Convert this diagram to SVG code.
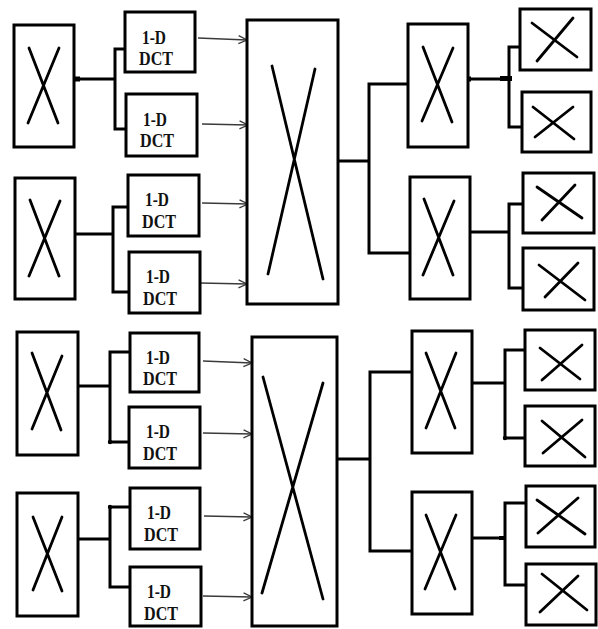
<svg xmlns="http://www.w3.org/2000/svg" width="598" height="629" viewBox="0 0 598 629">
  <style>
    .box { fill: #fff; stroke: #000; stroke-width: 3; }
    .cross { stroke: #000; stroke-width: 2.8; stroke-linecap: round; fill: none; }
    .wire { stroke: #000; stroke-width: 3; fill: none; }
    .arrow { stroke: #3a3a3a; stroke-width: 1.3; fill: none; marker-end: url(#head); }
    .lbl { font-family: "Liberation Serif", "Times New Roman", serif; font-weight: bold; font-size: 19px; fill: #111; text-anchor: middle; }
    .blob { fill: #000; }
  </style>
  <defs>
    <marker id="head" viewBox="0 0 10 10" refX="9.5" refY="5" markerWidth="10" markerHeight="10" markerUnits="userSpaceOnUse" orient="auto">
      <path d="M1,1 L9.5,5 L1,9" fill="none" stroke="#3a3a3a" stroke-width="1.3"/>
    </marker>
  </defs>

  <rect width="598" height="629" fill="#fff"/>

  <!-- wiring between blocks -->
  <g id="connectors">
    <!-- top half, left splits -->
    <path class="wire" d="M74,79 H115 M125,49 H115 V129 H127"/>
    <path class="wire" d="M75,234 H113 M128,207 H113 V292 H129"/>
    <!-- top half, right splits -->
    <path class="wire" d="M338,161 H369 M408,84 H369 V253 H410"/>
    <path class="wire" d="M468,79 H509 M521,47 H509 V127 H522"/>
    <path class="wire" d="M470,232 H509 M523,204 H509 V288 H523"/>
    <!-- bottom half, left splits -->
    <path class="wire" d="M78,386 H110 M130,352 H110 V442 H129"/>
    <path class="wire" d="M78,539 H110 M130,507 H110 V587 H130"/>
    <!-- bottom half, right splits -->
    <path class="wire" d="M337,459 H370 M412,372 H370 V551 H412"/>
    <path class="wire" d="M472,383 H505 M525,350 H505 V438 H525"/>
    <path class="wire" d="M472,538 H505 M526,503 H505 V585 H526"/>
    <!-- junction blobs -->
    <rect class="blob" x="72" y="76.5" width="8" height="5"/>
    <rect class="blob" x="465" y="76.5" width="6" height="5"/>
    <rect class="blob" x="500" y="76" width="12" height="5"/>
    <circle class="blob" cx="110" cy="442" r="2.2"/>
    <circle class="blob" cx="110" cy="507" r="2.2"/>
    <circle class="blob" cx="505" cy="438" r="2.2"/>
    <rect class="blob" x="499" y="536" width="7" height="4"/>
    <!-- DCT outputs into the transpose blocks -->
    <path class="arrow" d="M198,38 L247,40"/>
    <path class="arrow" d="M202,124 L248,125"/>
    <path class="arrow" d="M202,203 L248,204"/>
    <path class="arrow" d="M200,283 L247,284"/>
    <path class="arrow" d="M203,361 L252,363"/>
    <path class="arrow" d="M203,433 L252,434"/>
    <path class="arrow" d="M204,516 L252,517"/>
    <path class="arrow" d="M203,596 L252,597"/>
  </g>

  <!-- top half: input blocks -->
  <g id="in1"><rect class="box" x="14" y="25" width="60" height="122"/><path class="cross" d="M29,48 L58,123 M59,48 L28,123"/></g>
  <g id="in2"><rect class="box" x="15" y="178" width="60" height="121"/><path class="cross" d="M30,200 L59,276 M60,201 L29,276"/></g>

  <!-- top half: 1-D DCT blocks -->
  <g id="dct1"><rect class="box" x="125" y="12" width="70" height="60"/><text class="lbl" x="154" y="44" textLength="24" lengthAdjust="spacingAndGlyphs">1-D</text><text class="lbl" x="156" y="65" textLength="34" lengthAdjust="spacingAndGlyphs">DCT</text></g>
  <g id="dct2"><rect class="box" x="126" y="94" width="71" height="62"/><text class="lbl" x="155" y="126" textLength="24" lengthAdjust="spacingAndGlyphs">1-D</text><text class="lbl" x="157" y="147" textLength="34" lengthAdjust="spacingAndGlyphs">DCT</text></g>
  <g id="dct3"><rect class="box" x="128" y="175" width="71" height="61"/><text class="lbl" x="157" y="206" textLength="24" lengthAdjust="spacingAndGlyphs">1-D</text><text class="lbl" x="159" y="228" textLength="34" lengthAdjust="spacingAndGlyphs">DCT</text></g>
  <g id="dct4"><rect class="box" x="129" y="252" width="71" height="61"/><text class="lbl" x="158" y="283" textLength="24" lengthAdjust="spacingAndGlyphs">1-D</text><text class="lbl" x="160" y="305" textLength="34" lengthAdjust="spacingAndGlyphs">DCT</text></g>

  <!-- top half: transpose block -->
  <g id="mid1"><rect class="box" x="247" y="20" width="91" height="284"/><path class="cross" d="M272,66 L323,279 M268,274 L315,69"/></g>

  <!-- top half: output blocks -->
  <g id="out1"><rect class="box" x="408" y="24" width="60" height="123"/><path class="cross" d="M423,47 L452,122 M453,48 L422,121"/></g>
  <g id="out2"><rect class="box" x="410" y="177" width="60" height="122"/><path class="cross" d="M424,199 L453,275 M454,201 L423,275"/></g>
  <g id="sub1"><rect class="box" x="520" y="9" width="71" height="61"/><path class="cross" d="M532,23 L577,57 M573,18 L537,61"/></g>
  <g id="sub2"><rect class="box" x="522" y="92" width="69" height="60"/><path class="cross" d="M533,107 L574,139 M573,107 L535,137"/></g>
  <g id="sub3"><rect class="box" x="523" y="173" width="71" height="60"/><path class="cross" d="M537,187 L582,218 M575,185 L542,220"/></g>
  <g id="sub4"><rect class="box" x="523" y="248" width="71" height="62"/><path class="cross" d="M539,265 L585,300 M578,263 L545,297"/></g>

  <!-- bottom half: input blocks -->
  <g id="in3"><rect class="box" x="17" y="332" width="61" height="123"/><path class="cross" d="M32,353 L61,430 M62,356 L32,429"/></g>
  <g id="in4"><rect class="box" x="17" y="493" width="61" height="123"/><path class="cross" d="M33,517 L62,591 M62,517 L33,590"/></g>

  <!-- bottom half: 1-D DCT blocks -->
  <g id="dct5"><rect class="box" x="130" y="333" width="69" height="59"/><text class="lbl" x="158" y="364" textLength="24" lengthAdjust="spacingAndGlyphs">1-D</text><text class="lbl" x="160" y="385" textLength="34" lengthAdjust="spacingAndGlyphs">DCT</text></g>
  <g id="dct6"><rect class="box" x="129" y="407" width="71" height="61"/><text class="lbl" x="158" y="438" textLength="24" lengthAdjust="spacingAndGlyphs">1-D</text><text class="lbl" x="160" y="460" textLength="34" lengthAdjust="spacingAndGlyphs">DCT</text></g>
  <g id="dct7"><rect class="box" x="130" y="488" width="70" height="61"/><text class="lbl" x="159" y="519" textLength="24" lengthAdjust="spacingAndGlyphs">1-D</text><text class="lbl" x="161" y="541" textLength="34" lengthAdjust="spacingAndGlyphs">DCT</text></g>
  <g id="dct8"><rect class="box" x="130" y="567" width="71" height="59"/><text class="lbl" x="159" y="598" textLength="24" lengthAdjust="spacingAndGlyphs">1-D</text><text class="lbl" x="161" y="620" textLength="34" lengthAdjust="spacingAndGlyphs">DCT</text></g>

  <!-- bottom half: transpose block -->
  <g id="mid2"><rect class="box" x="252" y="337" width="85" height="289"/><path class="cross" d="M263,377 L323,599 M262,593 L323,383"/></g>

  <!-- bottom half: output blocks -->
  <g id="out3"><rect class="box" x="412" y="331" width="60" height="122"/><path class="cross" d="M426,353 L455,428 M456,353 L426,428"/></g>
  <g id="out4"><rect class="box" x="412" y="492" width="60" height="122"/><path class="cross" d="M426,515 L455,589 M456,515 L425,589"/></g>
  <g id="sub5"><rect class="box" x="525" y="330" width="70" height="60"/><path class="cross" d="M540,348 L580,379 M582,345 L542,380"/></g>
  <g id="sub6"><rect class="box" x="525" y="406" width="70" height="60"/><path class="cross" d="M542,421 L585,457 M582,420 L543,453"/></g>
  <g id="sub7"><rect class="box" x="526" y="486" width="69" height="61"/><path class="cross" d="M537,500 L585,534 M578,498 L538,533"/></g>
  <g id="sub8"><rect class="box" x="526" y="564" width="70" height="61"/><path class="cross" d="M542,574 L587,610 M578,576 L540,612"/></g>
</svg>
